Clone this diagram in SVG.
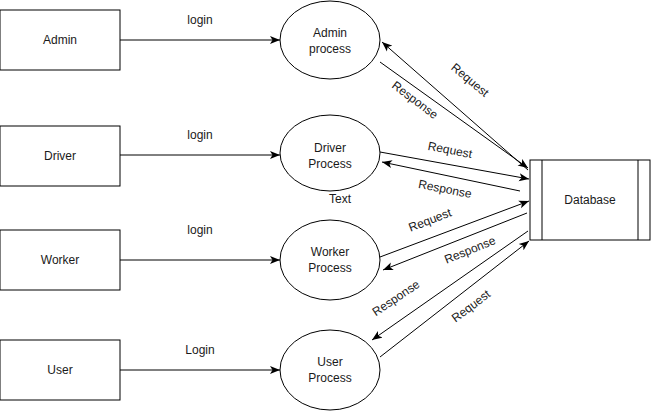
<svg xmlns="http://www.w3.org/2000/svg" width="651" height="411" viewBox="0 0 651 411">
<defs>
<marker id="arr" markerUnits="userSpaceOnUse" markerWidth="11" markerHeight="9" refX="10" refY="4.5" orient="auto">
<path d="M0,0.5 L10,4.5 L0,8.5 L2.5,4.5 z" fill="#000"/>
</marker>
<style>
.box{fill:#fff;stroke:#000;stroke-width:1}
.t{font-family:"Liberation Sans",Arial,sans-serif;font-size:12px;fill:#1a1a1a;text-anchor:middle;dominant-baseline:central}
.c{stroke:#000;stroke-width:1;fill:none;marker-end:url(#arr)}
</style>
</defs>
<rect width="651" height="411" fill="#fff"/>
<g id="connectors">
<line class="c" x1="120" y1="40" x2="280" y2="40"/>
<line class="c" x1="120" y1="155" x2="280" y2="155"/>
<line class="c" x1="120" y1="260" x2="280" y2="260"/>
<line class="c" x1="120" y1="370" x2="280" y2="370"/>
<line class="c" x1="528" y1="170" x2="382" y2="42"/>
<line class="c" x1="380" y1="62" x2="528" y2="168"/>
<line class="c" x1="380" y1="152" x2="529" y2="179"/>
<line class="c" x1="520" y1="191" x2="382" y2="162"/>
<line class="c" x1="380" y1="257" x2="529" y2="201"/>
<line class="c" x1="527" y1="213" x2="383" y2="270"/>
<line class="c" x1="528" y1="231" x2="372" y2="340"/>
<line class="c" x1="380" y1="357" x2="529" y2="241"/>
<text class="t" x="200" y="20">login</text>
<text class="t" x="200" y="135">login</text>
<text class="t" x="200" y="230">login</text>
<text class="t" x="200" y="350">Login</text>
<text class="t" transform="translate(470,80) rotate(40)">Request</text>
<text class="t" transform="translate(415,100) rotate(37)">Response</text>
<text class="t" transform="translate(450,150) rotate(11)">Request</text>
<text class="t" transform="translate(445,189) rotate(11)">Response</text>
<text class="t" transform="translate(430,220) rotate(-21)">Request</text>
<text class="t" transform="translate(470,250) rotate(-22)">Response</text>
<text class="t" transform="translate(396,298) rotate(-34)">Response</text>
<text class="t" transform="translate(471,306) rotate(-37)">Request</text>
<text class="t" x="340" y="199">Text</text>
</g>
<g id="admin"><rect class="box" x="0" y="10" width="120" height="60"/><text class="t" x="60" y="40">Admin</text></g>
<g id="driver"><rect class="box" x="0" y="126" width="120" height="60"/><text class="t" x="60" y="156">Driver</text></g>
<g id="worker"><rect class="box" x="0" y="230" width="120" height="60"/><text class="t" x="60" y="260">Worker</text></g>
<g id="user"><rect class="box" x="0" y="340" width="120" height="60"/><text class="t" x="60" y="370">User</text></g>
<g id="admin-process"><ellipse class="box" cx="330" cy="40" rx="50" ry="39"/><text class="t" x="330" y="33">Admin</text><text class="t" x="330" y="49">process</text></g>
<g id="driver-process"><ellipse class="box" cx="330" cy="153" rx="50" ry="38"/><text class="t" x="330" y="148">Driver</text><text class="t" x="330" y="164">Process</text></g>
<g id="worker-process"><ellipse class="box" cx="330" cy="260" rx="50" ry="40"/><text class="t" x="330" y="252">Worker</text><text class="t" x="330" y="268">Process</text></g>
<g id="user-process"><ellipse class="box" cx="330" cy="370" rx="50" ry="40"/><text class="t" x="330" y="362">User</text><text class="t" x="330" y="378">Process</text></g>
<g id="database"><rect class="box" x="530" y="160" width="120" height="80"/><line x1="542" y1="160" x2="542" y2="240" stroke="#000"/><line x1="638" y1="160" x2="638" y2="240" stroke="#000"/><text class="t" x="590" y="200">Database</text></g>
</svg>
